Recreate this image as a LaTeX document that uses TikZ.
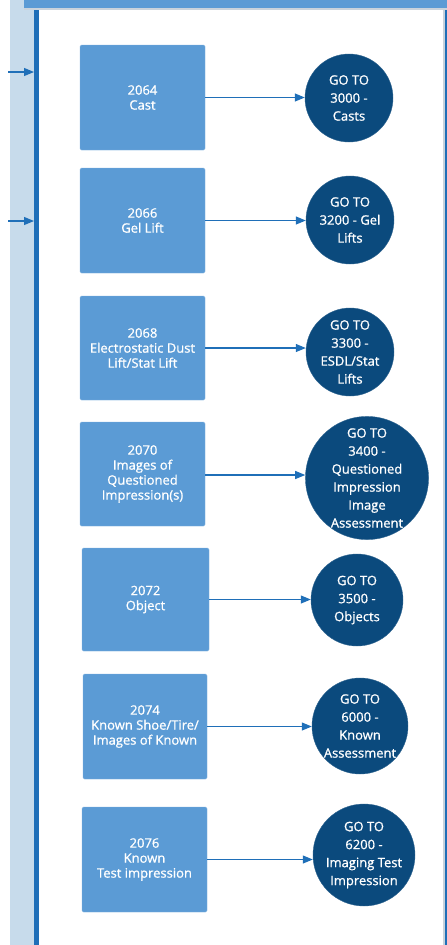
\documentclass[tikz,border=0pt]{standalone}
\usepackage{fontspec}
\newfontfamily\labelfont{Open Sans}[FakeBold=0.9]
\usetikzlibrary{arrows.meta}
\definecolor{boxblue}{HTML}{5B9BD5}
\definecolor{navy}{HTML}{0B4A7D}
\definecolor{linkblue}{HTML}{1F6FB8}
\definecolor{strip}{HTML}{C7DBEB}
\definecolor{edgegray}{HTML}{C9D3DC}
\tikzset{
  x=1pt,y=-1pt,
  stepbox/.style={rectangle,rounded corners=1.5pt,fill=boxblue,draw=boxblue!80!white,line width=0.4pt,
    text=white,align=center,font=\labelfont\fontsize{13}{15}\selectfont,inner sep=1pt},
  goto/.style={circle,fill=navy,draw=navy!85!white,text=white,align=center,
    font=\labelfont\fontsize{13}{18}\selectfont,inner sep=0pt},
  link/.style={draw=linkblue,line width=1.1pt,-{Triangle[length=10pt,width=8pt]}},
}
\begin{document}
\begin{tikzpicture}
\useasboundingbox (0,0) rectangle (447,945);
% background frame
\fill[strip] (10,0) rectangle (34,945);
\fill[boxblue] (24,0) rectangle (447,8);
\fill[edgegray] (24,8) rectangle (447,10);
\fill[linkblue] (34,10) rectangle (38.5,945);
\fill[edgegray] (443,10) rectangle (445,945);
\fill[linkblue] (445,10) rectangle (447,945);
% boxes
\node[stepbox,minimum width=125pt,minimum height=105pt] (b1) at (142.5,97.5) {2064\\Cast};
\node[stepbox,minimum width=125pt,minimum height=105pt] (b2) at (142.5,220.5) {2066\\Gel Lift};
\node[stepbox,minimum width=125pt,minimum height=104pt] (b3) at (142.5,348) {2068\\Electrostatic Dust\\Lift/Stat Lift};
\node[stepbox,minimum width=125pt,minimum height=104pt] (b4) at (142.5,474) {2070\\Images of\\Questioned\\Impression(s)};
\node[stepbox,minimum width=127pt,minimum height=103pt] (b5) at (145.5,599.5) {2072\\Object};
\node[stepbox,minimum width=124pt,minimum height=105pt] (b6) at (145,726.5) {2074\\Known Shoe/Tire/\\Images of Known};
\node[stepbox,minimum width=125pt,minimum height=105pt] (b7) at (144.5,859.5) {2076\\Known\\Test impression};
% circles
\node[goto,minimum size=88pt] (c1) at (349,98) {GO TO\\3000 -\\Casts};
\node[goto,minimum size=88pt] (c2) at (350,220) {GO TO\\3200 - Gel\\Lifts};
\node[goto,minimum size=88pt] (c3) at (350,352) {GO TO\\3300 -\\ESDL/Stat\\Lifts};
\node[goto,minimum size=122pt] (c4) at (367,478) {GO TO\\3400 -\\Questioned\\Impression\\Image\\Assessment};
\node[goto,minimum size=92pt] (c5) at (357,600) {GO TO\\3500 -\\Objects};
\node[goto,minimum size=96pt] (c6) at (360,726) {GO TO\\6000 -\\Known\\Assessment};
\node[goto,minimum size=102pt] (c7) at (364,855) {GO TO\\6200 -\\Imaging Test\\Impression};
% connectors
\draw[link] (b1.east) -- (b1.east -| c1.west);
\draw[link] (b2.east) -- (b2.east -| c2.west);
\draw[link] (b3.east) -- (b3.east -| c3.west);
\draw[link] ([yshift=-1pt]b4.east) -- ([yshift=-1pt]b4.east -| c4.west);
\draw[link] (b5.east) -- (b5.east -| c5.west);
\draw[link] (b6.east) -- (b6.east -| c6.west);
\draw[link] (b7.east) -- (b7.east -| c7.west);
% incoming arrows from the left lane
\coordinate (in1) at (8,72);
\coordinate (in1e) at (34,72);
\coordinate (in2) at (8,221);
\coordinate (in2e) at (34,221);
\draw[link] (in1) -- (in1e);
\draw[link] (in2) -- (in2e);
\end{tikzpicture}
\end{document}
